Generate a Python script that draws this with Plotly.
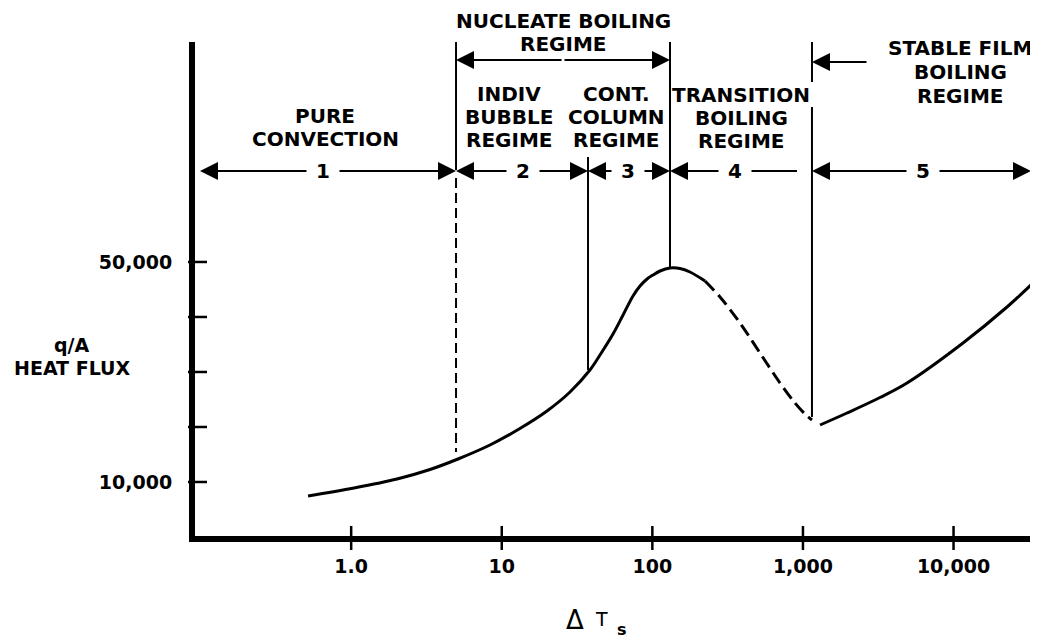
import math
import plotly.graph_objects as go

# ---------------- data ----------------
# convection + nucleate boiling (solid)
seg1_x = [0.517, 1.044, 2.016, 3.339, 5.12, 8.35, 13.2, 19.97, 28.4, 38.5, 44.9, 54.8, 63.9,
          74.4, 82.8, 92.2, 101, 112.4, 131, 152.6, 177.8, 223.7]
seg1_y = [7454, 8908, 10545, 12272, 14181, 16726, 19726, 22907, 26361, 30361, 33088, 36906, 40360,
          43814, 45632, 46905, 47632, 48359, 48904, 48813, 48177, 46541]
# transition boiling (dashed)
seg2_x = [223.7, 281.3, 381.9, 518.6, 704.1, 885.4, 1031.8, 1148]
seg2_y = [46541, 43632, 38905, 33451, 27997, 24361, 22362, 21271]
# stable film boiling (solid)
seg3_x = [1298, 1962, 3249, 4909, 11557, 22650, 33190]
seg3_y = [20362, 22543, 25361, 27997, 35269, 41814, 45996]

# regime boundaries (delta T)
boundary_x = [4.97, 37.4, 131, 1148]

x_tick_vals = [1, 10, 100, 1000, 10000]
x_tick_text = ["1.0", "10", "100", "1,000", "10,000"]
y_tick_vals = [10000, 20000, 30000, 40000, 50000]
y_label_vals = [10000, 50000]
y_label_text = ["10,000", "50,000"]

row_labels = ["1", "2", "3", "4", "5"]

# ---------------- layout geometry (screen pixels; page has an 8px body margin) ----------------
OFF = 8
W, H = 1038 - OFF, 639 - OFF
L, R, T, B = 195, 1032, 42, 536          # plot area in screen pixels
XLOG0, XLOG1 = -1.037, 4.521
Y0, Y1 = 182, 89990

def lx(px):      # screen pixel -> log10 x (annotations on log axis)
    return XLOG0 + (px - L) / (R - L) * (XLOG1 - XLOG0)

def dy(py):      # screen pixel -> y data
    return Y0 + (B - py) / (B - T) * (Y1 - Y0)

def pxp(px):
    return (px - L) / (R - L)

def pyp(py):
    return (B - py) / (B - T)

FONT = "DejaVu Sans"
fig = go.Figure()

sp = dict(shape="spline", smoothing=1.0)
fig.add_trace(go.Scatter(x=seg1_x, y=seg1_y, mode="lines",
                         line=dict(color="black", width=3, **sp)))
fig.add_trace(go.Scatter(x=seg2_x, y=seg2_y, mode="lines",
                         line=dict(color="black", width=3, dash="13px,6px", **sp)))
fig.add_trace(go.Scatter(x=seg3_x, y=seg3_y, mode="lines",
                         line=dict(color="black", width=3, **sp)))

# boundary lines
b1, b2, b3, b4 = boundary_x
bl = dict(color="black", width=2)
fig.add_trace(go.Scatter(x=[b1, b1], y=[dy(42), dy(170)], mode="lines", line=bl))
fig.add_trace(go.Scatter(x=[b1, b1], y=[dy(178), dy(452)], mode="lines",
                         line=dict(color="black", width=2, dash="10px,5px")))
fig.add_trace(go.Scatter(x=[b2, b2], y=[dy(157), seg1_y[9]], mode="lines", line=bl))
fig.add_trace(go.Scatter(x=[b3, b3], y=[dy(42), seg1_y[18]], mode="lines", line=bl))
fig.add_trace(go.Scatter(x=[b4, b4], y=[dy(42), dy(82)], mode="lines", line=bl))
fig.add_trace(go.Scatter(x=[b4, b4], y=[dy(107), dy(417)], mode="lines", line=bl))

shapes = []
for v in x_tick_vals:
    shapes.append(dict(type="line", xref="x", yref="paper", x0=v, x1=v,
                       y0=pyp(550), y1=pyp(526), line=dict(color="black", width=2.5)))
for v in y_tick_vals:
    shapes.append(dict(type="line", xref="paper", yref="y", x0=pxp(188), x1=pxp(207),
                       y0=v, y1=v, line=dict(color="black", width=2.5)))

ann = []
def arrow(head, tail, y, head_on=True):
    ann.append(dict(x=head, y=y, ax=tail, ay=y, xref="x", yref="y", axref="x", ayref="y",
                    text="", showarrow=True, arrowhead=2 if head_on else 0, arrowsize=1.8,
                    arrowwidth=2, arrowcolor="black", standoff=0, startstandoff=0))

def text(s, px, py, size=20, bold=True):
    ann.append(dict(x=pxp(px), y=pyp(py), xref="paper", yref="paper", showarrow=False,
                    text=("<b>%s</b>" % s) if bold else s, xanchor="center", yanchor="middle",
                    font=dict(family=FONT, size=size, color="black")))

def block(lines, px, py0, step=23, size=20):
    for i, s in enumerate(lines):
        text(s, px, py0 + i * step, size=size)

# row of numbered regime arrows
yrow = dy(171)
gap = 15 / (R - L) * (XLOG1 - XLOG0)
lb = [math.log10(v) for v in boundary_x]
spans = [(lx(200), lb[0], 323, True), (lb[0], lb[1], 523, True), (lb[1], lb[2], 628, True),
         (lb[2], lx(797), 735, False), (lb[3], lx(1031), 923, True)]
for lab, (a, b, cpx, right_head) in zip(row_labels, spans):
    c = lx(cpx)
    arrow(a, c - gap, yrow)
    arrow(b, c + gap, yrow, head_on=right_head)
    ann.append(dict(x=c, y=yrow, xref="x", yref="y", showarrow=False, text="<b>%s</b>" % lab,
                    font=dict(family=FONT, size=20, color="black")))

# nucleate boiling double arrow
yn = dy(60)
mid = (lb[0] + lb[2]) / 2
arrow(lb[0], mid, yn)
arrow(lb[2], mid, yn)
# stable film arrow
arrow(lb[3], lx(868), dy(62))

block(["NUCLEATE BOILING", "REGIME"], 563, 21)
block(["PURE", "CONVECTION"], 325, 116, step=23)
block(["INDIV", "BUBBLE", "REGIME"], 509, 94)
block(["CONT.", "COLUMN", "REGIME"], 616, 94)
block(["TRANSITION", "BOILING", "REGIME"], 741, 95)
block(["STABLE FILM", "BOILING", "REGIME"], 960, 48, step=24)
block(["q/A", "HEAT FLUX"], 72, 345, size=19)

# x axis title: delta T_s
text("Δ", 575, 620, size=26, bold=False)
text("T", 601, 619, size=19, bold=False)
text("s", 622, 629, size=16)

tf = dict(family=FONT, size=19, color="black", weight="bold")
fig.update_layout(
    width=W, height=H, showlegend=False,
    margin=dict(l=L - OFF, r=W - (R - OFF), t=T - OFF, b=H - (B - OFF)),
    plot_bgcolor="white", paper_bgcolor="white",
    shapes=shapes, annotations=ann,
    xaxis=dict(type="log", range=[XLOG0, XLOG1], showgrid=False, zeroline=False,
               showline=True, linewidth=6, linecolor="black", ticks="",
               tickvals=x_tick_vals, ticktext=x_tick_text, ticklabelstandoff=8,
               tickfont=tf),
    yaxis=dict(range=[Y0, Y1], showgrid=False, zeroline=False,
               showline=True, linewidth=6, linecolor="black", ticks="",
               tickvals=y_label_vals, ticktext=y_label_text, ticklabelstandoff=13,
               tickfont=tf),
)

fig.write_html("out.html")
